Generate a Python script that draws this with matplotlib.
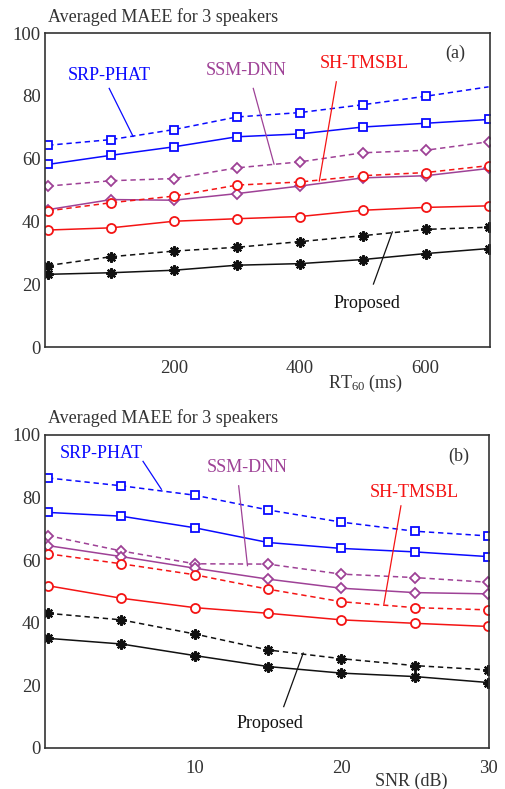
import matplotlib.pyplot as plt

plt.rcParams['font.family'] = ['Liberation Serif', 'DejaVu Serif']
plt.rcParams['mathtext.fontset'] = 'custom'
plt.rcParams['mathtext.rm'] = 'Liberation Serif'
plt.rcParams['mathtext.default'] = 'rm'

# (a) error vs reverberation time
rt60 = [0, 100, 200, 300, 400, 500, 600, 700]
srp_a_dash = [64.3, 66.1, 69.3, 73.3, 74.7, 77.2, 79.9, 82.9]
srp_a_solid = [58.2, 61.1, 63.8, 67.0, 67.9, 70.1, 71.3, 72.5]
ssm_a_dash = [51.3, 53.0, 53.7, 57.1, 59.0, 61.9, 62.7, 65.4]
ssm_a_solid = [43.8, 47.0, 46.8, 48.9, 51.3, 53.9, 54.6, 56.9]
sh_a_dash = [43.4, 46.0, 48.1, 51.6, 52.6, 54.6, 55.6, 57.8]
sh_a_solid = [37.3, 38.0, 40.1, 40.9, 41.6, 43.6, 44.5, 45.0]
prop_a_dash = [26.0, 28.8, 30.6, 31.8, 33.6, 35.5, 37.5, 38.2]
prop_a_solid = [23.2, 23.7, 24.5, 26.1, 26.6, 27.9, 29.8, 31.4]

# (b) error vs SNR
snr = [0, 5, 10, 15, 20, 25, 30]
srp_b_dash = [86.2, 83.7, 80.7, 76.0, 72.1, 69.2, 67.7]
srp_b_solid = [75.2, 74.0, 70.3, 65.6, 63.7, 62.6, 61.1]
ssm_b_dash = [67.8, 62.9, 58.8, 58.7, 55.5, 54.4, 52.9]
ssm_b_solid = [64.6, 61.1, 57.4, 53.9, 51.0, 49.6, 49.2]
sh_b_dash = [62.0, 58.8, 55.3, 50.7, 46.7, 44.8, 44.1]
sh_b_solid = [51.8, 47.8, 44.8, 43.0, 40.9, 39.8, 38.8]
prop_b_dash = [43.0, 40.9, 36.4, 31.3, 28.5, 26.3, 24.9]
prop_b_solid = [35.0, 33.2, 29.5, 26.0, 23.9, 22.8, 20.9]

BLUE = '#0a0aff'
PURPLE = '#9e4196'
RED = '#f41414'
BLACK = '#111111'
DASH = (0, (3.5, 2.5))
STAR = (8, 2, 0)


def draw(ax, x, dash_solid, color, marker, ms, skip_last_dash=False):
    dash, solid = dash_solid
    star = marker == STAR
    kw = dict(color=color, lw=1.1, marker=marker, ms=ms, mew=1.6 if star else 1.3,
              mfc=color if star else 'white', mec=color)
    if skip_last_dash:
        ax.plot(x, dash, color=color, lw=1.1, ls=DASH)
        ax.plot(x[:-1], dash[:-1], ls='none', **{k: v for k, v in kw.items() if k != 'lw'})
    else:
        ax.plot(x, dash, ls=DASH, **kw)
    ax.plot(x, solid, ls='-', **kw)


def note(ax, text, color, xy_text, p0, p1, size=13):
    ax.text(*xy_text, text, color=color, fontsize=size, ha='center', va='center')
    ax.plot([p0[0], p1[0]], [p0[1], p1[1]], color=color, lw=0.9)


def style(ax):
    ax.set_ylim(0, 100)
    ax.set_yticks([0, 20, 40, 60, 80, 100])
    ax.tick_params(length=0, labelsize=13.5, labelcolor='#333333')
    ax.tick_params(axis='y', pad=3)
    ax.tick_params(axis='x', pad=9)
    for sp in ax.spines.values():
        sp.set_color('#333333')
        sp.set_linewidth(1.2)
    ax.text(0.007, 1.052, 'Averaged MAEE for 3 speakers', transform=ax.transAxes,
            fontsize=13, color='#333333', ha='left', va='center')


fig = plt.figure(figsize=(5.06, 7.89), dpi=100)
ax1 = fig.add_axes([0.089, 0.560, 0.879, 0.398])
ax2 = fig.add_axes([0.089, 0.052, 0.877, 0.397])

draw(ax1, rt60, (srp_a_dash, srp_a_solid), BLUE, 's', 6, skip_last_dash=True)
draw(ax1, rt60, (ssm_a_dash, ssm_a_solid), PURPLE, 'D', 5.5)
draw(ax1, rt60, (sh_a_dash, sh_a_solid), RED, 'o', 6.5)
draw(ax1, rt60, (prop_a_dash, prop_a_solid), BLACK, STAR, 7.5)
ax1.set_xlim(-5, 702)
ax1.set_xticks([200, 400, 600])
style(ax1)
note(ax1, 'SRP-PHAT', BLUE, (97, 86.6), (97, 82.4), (135, 67.1))
note(ax1, 'SSM-DNN', PURPLE, (314, 88.0), (326, 82.4), (359, 58.3))
note(ax1, 'SH-TMSBL', RED, (502, 90.3), (458, 84.5), (431, 52.9))
note(ax1, 'Proposed', BLACK, (507, 13.9), (517, 20.1), (547, 36.7))
ax1.text(647, 93.5, '(a)', fontsize=13, color='#333333', ha='center', va='center')
ax1.set_xlabel('RT$_{60}$ (ms)', fontsize=13, color='#333333')
ax1.xaxis.set_label_coords(0.72, -0.115)
ax1.xaxis.label.set_va('center')

draw(ax2, snr, (srp_b_dash, srp_b_solid), BLUE, 's', 6)
draw(ax2, snr, (ssm_b_dash, ssm_b_solid), PURPLE, 'D', 5.5)
draw(ax2, snr, (sh_b_dash, sh_b_solid), RED, 'o', 6.5)
draw(ax2, snr, (prop_b_dash, prop_b_solid), BLACK, STAR, 7.5)
ax2.set_xlim(-0.2, 30.05)
ax2.set_xticks([10, 20, 30])
style(ax2)
note(ax2, 'SRP-PHAT', BLUE, (3.65, 94.1), (6.48, 91.5), (7.73, 82.6))
note(ax2, 'SSM-DNN', PURPLE, (13.6, 89.4), (13.0, 83.7), (13.6, 58.2))
note(ax2, 'SH-TMSBL', RED, (25.0, 81.6), (24.06, 77.3), (22.9, 46.0))
note(ax2, 'Proposed', BLACK, (15.15, 7.9), (16.07, 13.2), (17.4, 30.3))
ax2.text(28.0, 93.0, '(b)', fontsize=13, color='#333333', ha='center', va='center')
ax2.set_xlabel('SNR (dB)', fontsize=13, color='#333333')
ax2.xaxis.set_label_coords(0.826, -0.107)
ax2.xaxis.label.set_va('center')

fig.savefig('out.png', dpi=100)
